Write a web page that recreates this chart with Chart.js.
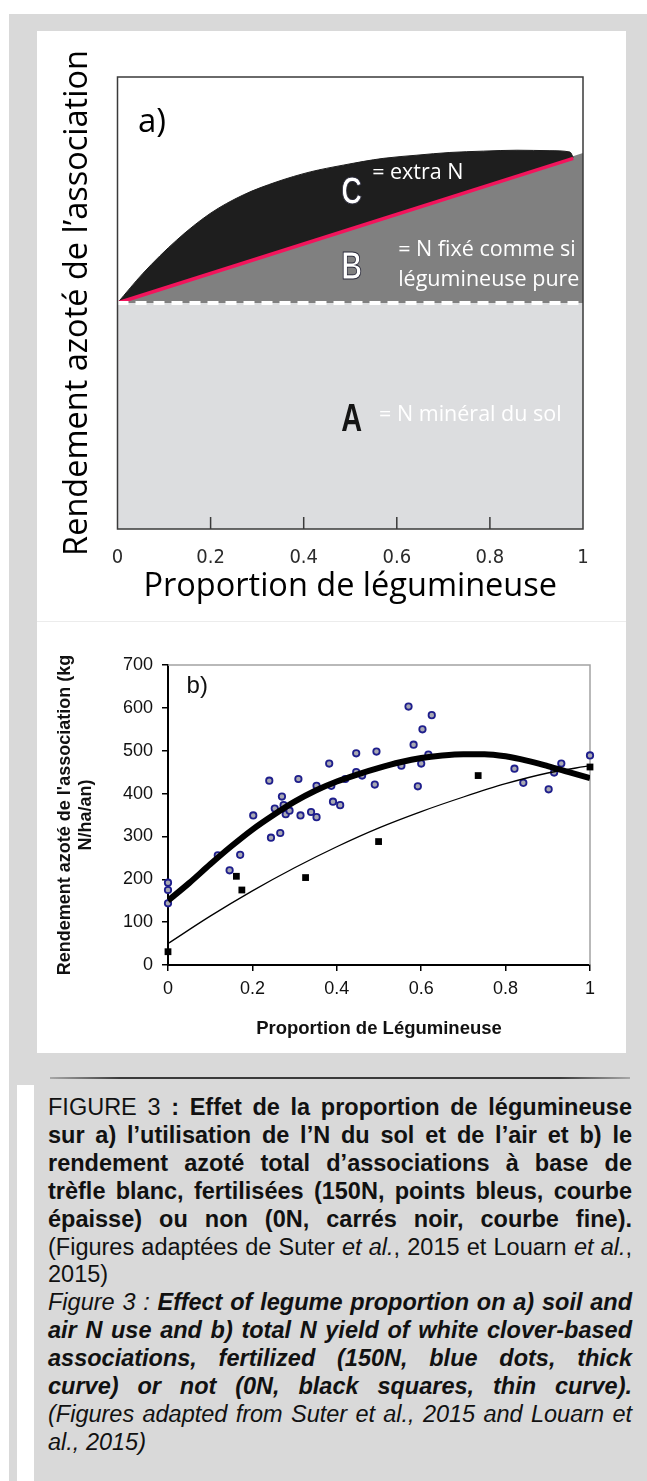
<!DOCTYPE html>
<html lang="fr">
<head>
<meta charset="utf-8">
<title>Figure 3</title>
<script src="https://cdn.jsdelivr.net/npm/chart.js@4.4.1/dist/chart.umd.min.js"></script>
<style>
html,body{margin:0;padding:0;background:#fff;}
body{position:relative;width:647px;height:1481px;overflow:hidden;}
#frame{position:absolute;left:9px;top:14px;width:638px;height:1467px;background:#d9d9d9;}
.panel{position:absolute;left:37px;width:589px;background:#fff;}
#pa{top:31px;height:590px;}
#pb{top:622px;height:431px;}
#sep{position:absolute;left:37px;top:621px;width:589px;height:1px;background:#ececec;}
#rule{position:absolute;left:50px;top:1077px;width:580px;height:2px;background:linear-gradient(to right,#a8a8a8 0%,#3a3a3a 12%,#3a3a3a 88%,#a8a8a8 100%);}
#strip{position:absolute;left:17px;top:1085px;width:17px;height:396px;background:#fff;}
#cap{position:absolute;left:48px;top:1094px;width:584px;font-family:"Liberation Sans",Arial,sans-serif;font-size:23.5px;line-height:27.9px;color:#111;}
#cap div{text-align:justify;text-align-last:justify;}
#cap div.e{text-align-last:left;}
canvas{position:absolute;}
</style>
</head>
<body>
<div id="frame"></div>
<div id="pa" class="panel"></div>
<div id="pb" class="panel"></div>
<div id="sep"></div>
<canvas id="chartA" width="589" height="590" style="left:37px;top:31px;width:589px;height:590px"></canvas>
<canvas id="chartB" width="589" height="431" style="left:37px;top:622px;width:589px;height:431px"></canvas>
<div id="rule"></div>
<div id="strip"></div>
<div id="cap">
<div>FIGURE 3 <b>: Effet de la proportion de légumineuse</b></div>
<div><b>sur a) l’utilisation de l’N du sol et de l’air et b) le</b></div>
<div><b>rendement azoté total d’associations à base de</b></div>
<div><b>trèfle blanc, fertilisées (150N, points bleus, courbe</b></div>
<div><b>épaisse) ou non (0N, carrés noir, courbe fine).</b></div>
<div>(Figures adaptées de Suter <i>et al.</i>, 2015 et Louarn <i>et al.</i>,</div>
<div class="e">2015)</div>
<div><i>Figure 3 : </i><b><i>Effect of legume proportion on a) soil and</i></b></div>
<div><b><i>air N use and b) total N yield of white clover-based</i></b></div>
<div><b><i>associations, fertilized (150N, blue dots, thick</i></b></div>
<div><b><i>curve) or not (0N, black squares, thin curve).</i></b></div>
<div><i>(Figures adapted from Suter et al., 2015 and Louarn et</i></div>
<div class="e"><i>al., 2015)</i></div>
</div>

<script>
// ---------- shared ----------
const propTicks = [0, 0.2, 0.4, 0.6, 0.8, 1];
const propTickLabels = ['0', '0.2', '0.4', '0.6', '0.8', '1'];

// ---------- panel a (schematic, relative units 0-100) ----------
const aEdgeX = [0, 1];
const aSoilTop = [50, 50];            // A : N minéral du sol
const aPureTop = [50, 83.2];          // B : N fixé comme si légumineuse pure
const aPinkX = [0, 0.979];
const aPinkY = [50, 82.0];
const aExtraX = [0, 0.055, 0.127, 0.199, 0.270, 0.342, 0.414, 0.485, 0.571, 0.643, 0.714, 0.786, 0.858, 0.929, 0.972, 0.979];
const aExtraY = [50, 56.6, 63.9, 69.8, 73.9, 76.8, 79.0, 80.5, 82.0, 82.7, 83.3, 83.6, 83.8, 83.7, 83.4, 82.2];
const aInnerTicks = [0.2, 0.4, 0.6, 0.8];
const aTag = 'a)';
const aZoneLetters = ['A', 'B', 'C'];
const aZoneNotes = ['= N minéral du sol', '= N fixé comme si', 'légumineuse pure', '= extra N'];

// ---------- panel b (kg N/ha/an) ----------
const yieldTicks = [0, 100, 200, 300, 400, 500, 600, 700];
const fertX = [0, 0, 0, 0.118, 0.146, 0.171, 0.202, 0.240, 0.244, 0.253, 0.266, 0.270, 0.274, 0.279, 0.288, 0.309, 0.314, 0.339, 0.352, 0.352, 0.382, 0.387, 0.391, 0.408, 0.420, 0.446, 0.446, 0.460, 0.490, 0.494, 0.553, 0.570, 0.582, 0.592, 0.600, 0.603, 0.617, 0.625, 0.821, 0.842, 0.902, 0.915, 0.932, 1.0];
const fertY = [192, 175, 144, 256, 221, 257, 349, 430, 297, 365, 308, 393, 373, 352, 360, 434, 349, 357, 418, 345, 470, 418, 381, 373, 434, 494, 450, 442, 421, 498, 465, 603, 514, 417, 470, 550, 491, 583, 458, 425, 410, 449, 470, 489];
const unfertX = [0, 0.162, 0.175, 0.326, 0.499, 0.735, 1.0];
const unfertY = [31, 207, 175, 204, 288, 442, 462];
const fertCurveX = [0, 0.05, 0.1, 0.15, 0.2, 0.25, 0.3, 0.35, 0.4, 0.45, 0.5, 0.55, 0.6, 0.65, 0.7, 0.75, 0.8, 0.85, 0.9, 0.95, 1.0];
const fertCurveY = [150, 191, 235, 277, 316, 350, 381, 407, 428, 445, 460, 473, 483, 489, 492, 492, 487, 477, 464, 450, 436];
const unfertCurveX = [0, 0.1, 0.2, 0.3, 0.4, 0.5, 0.6, 0.7, 0.8, 0.9, 1.0];
const unfertCurveY = [50, 114, 173, 227, 276, 320, 358, 392, 423, 448, 465];
const bTag = 'b)';

const toXY = (xs, ys) => xs.map((x, i) => ({ x: x, y: ys[i] }));

const narrow = '"Liberation Sans Narrow", "Arial Narrow", "DejaVu Sans Condensed", sans-serif';
const arial = '"Liberation Sans", Arial, sans-serif';
const calib = '"Open Sans", sans-serif';

// ---------- chart a ----------
const panelAPlugin = {
  id: 'panelA',
  afterDatasetsDraw(chart) {
    const { ctx, chartArea: ca } = chart;
    const x = chart.scales.x, y = chart.scales.y;
    ctx.save();
    ctx.strokeStyle = '#3a3a3a';
    ctx.lineWidth = 1.5;
    ctx.strokeRect(ca.left, ca.top, ca.right - ca.left, ca.bottom - ca.top);
    ctx.beginPath();
    aInnerTicks.forEach(v => {
      const px = x.getPixelForValue(v);
      ctx.moveTo(px, ca.bottom);
      ctx.lineTo(px, ca.bottom - 12);
    });
    ctx.stroke();

    const put = (txt, vx, vy, font, fill, stroke, align, sx) => {
      ctx.save();
      ctx.font = font;
      ctx.textAlign = align || 'left';
      ctx.textBaseline = 'middle';
      ctx.translate(x.getPixelForValue(vx), y.getPixelForValue(vy));
      ctx.scale(sx || 1, 1);
      ctx.fillStyle = fill;
      ctx.fillText(txt, 0, 0);
      if (stroke) { ctx.lineWidth = 1; ctx.strokeStyle = stroke; ctx.strokeText(txt, 0, 0); }
      ctx.restore();
    };
    const big = 'bold 38px ' + arial;
    const note = '21.5px ' + calib;
    put(aTag, 0.044, 90, '33px ' + calib, '#000');
    put(aZoneLetters[0], 0.503, 24.1, big, '#141414', null, 'center', 0.76);
    put(aZoneLetters[1], 0.503, 57.6, big, '#ffffff', '#2a2a3a', 'center', 0.76);
    put(aZoneLetters[2], 0.503, 74.2, big, '#ffffff', '#2a2a3a', 'center', 0.76);
    put(aZoneNotes[0], 0.562, 25.2, note, '#ffffff');
    put(aZoneNotes[1], 0.603, 61.7, note, '#ffffff');
    put(aZoneNotes[2], 0.603, 55.1, note, '#ffffff');
    put(aZoneNotes[3], 0.547, 78.8, note, '#ffffff');
    ctx.restore();
  }
};

new Chart(document.getElementById('chartA'), {
  type: 'line',
  data: {
    datasets: [
      { data: toXY(aEdgeX, aSoilTop), fill: 'origin', backgroundColor: '#dcdddf', borderWidth: 0, pointRadius: 0, order: 6 },
      { data: toXY(aEdgeX, aPureTop), fill: { value: 50 }, backgroundColor: '#808080', borderWidth: 0, pointRadius: 0, order: 5 },
      { data: toXY(aExtraX, aExtraY), fill: '+1', backgroundColor: '#1e1e1e', borderColor: '#1e1e1e', borderWidth: 1, pointRadius: 0, cubicInterpolationMode: 'monotone', order: 4 },
      { data: toXY(aPinkX, aPinkY), fill: false, borderColor: '#f2145c', borderWidth: 3.5, pointRadius: 0, order: 3 },
      { data: toXY(aEdgeX, aSoilTop), fill: false, borderColor: '#ffffff', borderWidth: 4, borderDash: [11, 7], pointRadius: 0, order: 2 }
    ]
  },
  options: {
    responsive: false, animation: false, devicePixelRatio: 1,
    layout: { padding: { left: 0, right: 43, top: 46, bottom: 0 } },
    plugins: { legend: { display: false }, tooltip: { enabled: false } },
    scales: {
      x: {
        type: 'linear', min: 0, max: 1,
        afterBuildTicks: s => { s.ticks = propTicks.map(v => ({ value: v })); },
        afterFit: s => { s.height = 92; },
        grid: { display: false }, border: { display: false },
        ticks: { padding: 9, autoSkip: false, maxRotation: 0, color: '#2b2b2b',
                 font: { family: narrow, size: 20 }, callback: (v, i) => propTickLabels[i] },
        title: { display: true, text: 'Proportion de légumineuse', color: '#000',
                 font: { family: calib, size: 32.5 }, padding: { top: 0, bottom: 14.5 } }
      },
      y: {
        type: 'linear', min: 0, max: 100,
        afterFit: s => { s.width = 80.5; },
        grid: { display: false }, border: { display: false }, ticks: { display: false },
        title: { display: true, text: 'Rendement azoté de l’association', color: '#000',
                 font: { family: calib, size: 32.5 }, padding: { top: 21.5, bottom: 0 } }
      }
    }
  },
  plugins: [panelAPlugin]
});

// ---------- chart b ----------
const panelBPlugin = {
  id: 'panelB',
  beforeDatasetsDraw(chart) {
    const { ctx, chartArea: ca } = chart;
    ctx.save();
    ctx.lineWidth = 1.5;
    ctx.strokeStyle = '#a3a3a3';
    ctx.beginPath();
    ctx.moveTo(ca.left, ca.top);
    ctx.lineTo(ca.right, ca.top);
    ctx.lineTo(ca.right, ca.bottom);
    ctx.stroke();
    ctx.font = '24px ' + arial;
    ctx.fillStyle = '#111';
    ctx.textAlign = 'left';
    ctx.textBaseline = 'middle';
    ctx.fillText(bTag, chart.scales.x.getPixelForValue(0.044), chart.scales.y.getPixelForValue(651));
    ctx.restore();
  }
};

const axisB = {
  grid: { drawOnChartArea: false, drawTicks: true, tickLength: 6, color: '#000', lineWidth: 1.5 },
  border: { display: true, color: '#000', width: 2 }
};

new Chart(document.getElementById('chartB'), {
  type: 'scatter',
  data: {
    datasets: [
      { data: toXY(fertCurveX, fertCurveY), showLine: true, borderColor: '#000', borderWidth: 6, pointRadius: 0, cubicInterpolationMode: 'monotone', fill: false, order: 1 },
      { data: toXY(unfertCurveX, unfertCurveY), showLine: true, borderColor: '#000', borderWidth: 1.3, pointRadius: 0, cubicInterpolationMode: 'monotone', fill: false, order: 2 },
      { data: toXY(fertX, fertY), pointStyle: 'circle', pointRadius: 3.2, borderWidth: 1.8, borderColor: '#1e1e8c', backgroundColor: '#a8a8b2', clip: false, order: 3 },
      { data: toXY(unfertX, unfertY), pointStyle: 'rect', pointRadius: 4.8, borderWidth: 0, backgroundColor: '#000', borderColor: '#000', clip: false, order: 4 }
    ]
  },
  options: {
    responsive: false, animation: false, devicePixelRatio: 1,
    layout: { padding: { left: 0, right: 36, top: 43, bottom: 0 } },
    plugins: { legend: { display: false }, tooltip: { enabled: false } },
    scales: {
      x: Object.assign({
        type: 'linear', min: 0, max: 1,
        afterBuildTicks: s => { s.ticks = propTicks.map(v => ({ value: v })); },
        afterFit: s => { s.height = 88; },
        ticks: { padding: 7, autoSkip: false, maxRotation: 0, color: '#111',
                 font: { family: arial, size: 18 }, callback: (v, i) => propTickLabels[i] },
        title: { display: true, text: 'Proportion de Légumineuse', color: '#111',
                 font: { family: arial, size: 18.5, weight: 'bold' }, padding: { top: 0, bottom: 13 } }
      }, axisB),
      y: Object.assign({
        type: 'linear', min: 0, max: 700,
        afterBuildTicks: s => { s.ticks = yieldTicks.map(v => ({ value: v })); },
        afterFit: s => { s.width = 131; },
        ticks: { padding: 9, color: '#111', font: { family: arial, size: 18 } },
        title: { display: true, text: ["Rendement azoté de l'association (kg", 'N/ha/an)'], color: '#111',
                 font: { family: arial, size: 18, weight: 'bold', lineHeight: 1.2 }, padding: { top: 17, bottom: 0 } }
      }, axisB)
    }
  },
  plugins: [panelBPlugin]
});
</script>
</body>
</html>
